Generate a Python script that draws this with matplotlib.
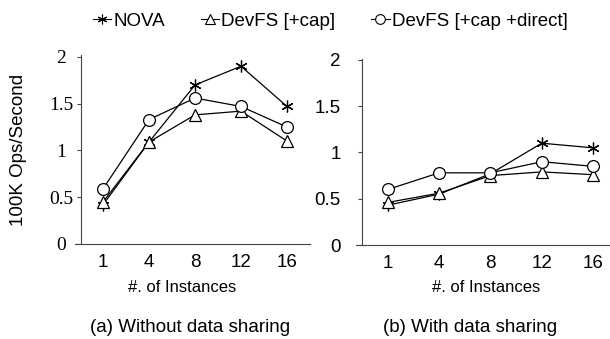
import matplotlib
matplotlib.use('Agg')
import matplotlib.pyplot as plt
from matplotlib.lines import Line2D

instances = ['1', '4', '8', '12', '16']
y_ticks = [0, 0.5, 1, 1.5, 2]
y_tick_labels = ['0', '0.5', '1', '1.5', '2']

# (a) without data sharing
nova_a = [0.42, 1.09, 1.70, 1.90, 1.47]
cap_a = [0.45, 1.09, 1.38, 1.42, 1.10]
direct_a = [0.59, 1.33, 1.56, 1.47, 1.25]

# (b) with data sharing
nova_b = [0.43, 0.55, 0.77, 1.10, 1.05]
cap_b = [0.46, 0.56, 0.75, 0.79, 0.76]
direct_b = [0.60, 0.78, 0.78, 0.90, 0.85]

series_names = ['NOVA', 'DevFS [+cap]', 'DevFS [+cap +direct]']
markers = [(6, 2, 0), '^', 'o']

plt.rcParams['font.family'] = ['Liberation Sans', 'DejaVu Sans']

fig = plt.figure(figsize=(6.1, 3.39), dpi=100)
W, H = 610.0, 339.0

# axes boxes in pixels
ax_a = fig.add_axes([75 / W, 1 - 244 / H, (310 - 75) / W, (244 - 55) / H])
ax_b = fig.add_axes([356 / W, 1 - 245 / H, (610 - 356) / W, (245 - 59) / H])

x = list(range(len(instances)))


def draw(ax, vals, xlim, spine_x, ylim_top, tick_font, tick_size, ha, pad):
    for v, m in zip(vals, markers):
        ms = 8.5 if m != '^' else 8
        ax.plot(x, v, color='black', lw=0.9, marker=m, markersize=ms,
                markerfacecolor='white', markeredgecolor='black',
                markeredgewidth=0.9)
    ax.set_xlim(*xlim)
    ax.set_ylim(0, ylim_top)
    ax.spines['top'].set_visible(False)
    ax.spines['right'].set_visible(False)
    ax.spines['left'].set_position(('data', spine_x))
    ax.spines['left'].set_color('#444444')
    ax.spines['bottom'].set_color('#444444')
    ax.tick_params(axis='x', length=0, pad=7, labelsize=13.5)
    ax.tick_params(axis='y', length=3, width=0.8, color='#444444', pad=pad,
                   labelsize=tick_size)
    ax.set_xticks(x)
    ax.set_xticklabels(instances)
    ax.set_yticks(y_ticks)
    ax.set_yticklabels(y_tick_labels)
    for lab in ax.get_yticklabels():
        lab.set_fontfamily(tick_font)
        lab.set_fontsize(tick_size)
        lab.set_horizontalalignment(ha)


draw(ax_a, [nova_a, cap_a, direct_a], (-0.61, 4.5), -0.48, 2.02,
     'Liberation Serif', 14, 'center', 11)
draw(ax_b, [nova_b, cap_b, direct_b], (-0.62, 4.33), -0.51, 2.01,
     'Liberation Sans', 13.5, 'right', 12)

ax_a.set_ylabel('100K Ops/Second', fontsize=13.5)
ax_a.yaxis.set_label_coords(-0.205, 0.5)

fig.text(182 / W, 1 - 287 / H, '#. of Instances', fontsize=12, ha='center', va='center')
fig.text(486 / W, 1 - 287 / H, '#. of Instances', fontsize=12, ha='center', va='center')
fig.text(190 / W, 1 - 328 / H, '(a) Without data sharing', fontsize=13.5, ha='center', va='center')
fig.text(470 / W, 1 - 328 / H, '(b) With data sharing', fontsize=13.5, ha='center', va='center')

handles = [Line2D([], [], color='black', lw=0.8, marker=m, markersize=7 if m != '^' else 6.5,
                  markerfacecolor='white', markeredgewidth=0.8) for m in markers]
fig.legend(handles, series_names, loc='center', bbox_to_anchor=(330 / W, 1 - 21 / H),
           ncol=3, frameon=False, fontsize=13.5, handlelength=1.0, handletextpad=0.1,
           columnspacing=1.9)

fig.savefig('out.png', dpi=100)
